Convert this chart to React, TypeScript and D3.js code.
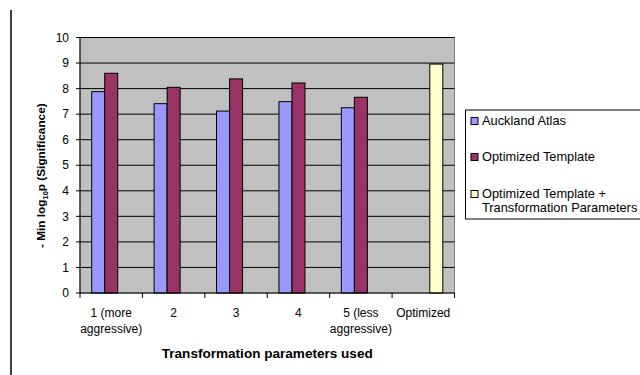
import React from "react";
import * as d3 from "d3";

const categories = ["1 (more|aggressive)", "2", "3", "4", "5 (less|aggressive)", "Optimized"];
const seriesNames = ["Auckland Atlas", "Optimized Template", "Optimized Template +|Transformation Parameters"];
const aucklandAtlas: (number | null)[] = [7.88, 7.41, 7.12, 7.49, 7.25, null];
const optimizedTemplate: (number | null)[] = [8.6, 8.05, 8.38, 8.22, 7.66, null];
const optimizedTransform: (number | null)[] = [null, null, null, null, null, 8.96];
const yTicks = [0, 1, 2, 3, 4, 5, 6, 7, 8, 9, 10];
const colors = ["#9999FF", "#993366", "#FFFFCC"];

export default function App() {
  const W = 640, H = 375;
  const left = 80, right = 454.5, top = 37.5, bottom = 293;
  const x = d3.scaleBand<string>().domain(categories).range([left, right]).paddingInner(0).paddingOuter(0);
  const y = d3.scaleLinear().domain([0, 10]).range([bottom, top]);
  const bw = x.bandwidth();
  const barW = bw * 0.625 / 3;
  const series = [aucklandAtlas, optimizedTemplate, optimizedTransform];
  const font = "Liberation Sans, Arial, sans-serif";

  return (
    <svg width={W} height={H} style={{ position: "absolute", left: 0, top: 0 }} fontFamily={font}>
      <rect x={0} y={0} width={W} height={H} fill="#fff" />
      <line x1={11} x2={11} y1={10} y2={375} stroke="#000" strokeWidth={1.5} />
      <rect x={left} y={top} width={right - left} height={bottom - top} fill="#C0C0C0" stroke="#808080" strokeWidth={1} />
      {yTicks.slice(1).map((t) => (
        <line key={t} x1={left} x2={right} y1={y(t)} y2={y(t)} stroke="#000" strokeWidth={1} />
      ))}
      {series.map((vals, si) =>
        vals.map((v, ci) =>
          v == null ? null : (
            <rect
              key={`${si}-${ci}`}
              x={(x(categories[ci]) as number) + bw / 2 - 1.5 * barW + si * barW}
              y={y(v)}
              width={barW}
              height={y(0) - y(v)}
              fill={colors[si]}
              stroke="#000"
              strokeWidth={1}
            />
          )
        )
      )}
      {/* axes */}
      <line x1={left} x2={left} y1={top} y2={bottom} stroke="#000" strokeWidth={1} />
      <line x1={left} x2={right} y1={bottom} y2={bottom} stroke="#000" strokeWidth={1} />
      {yTicks.map((t) => (
        <g key={t}>
          <line x1={left - 4} x2={left} y1={y(t)} y2={y(t)} stroke="#000" />
          <text x={left - 11} y={y(t)} dy="0.35em" textAnchor="end" fontSize={12}>{t}</text>
        </g>
      ))}
      {categories.map((c, i) => (
        <g key={c}>
          <line x1={(x(c) as number) + bw} x2={(x(c) as number) + bw} y1={bottom} y2={bottom + 5} stroke="#000" />
          {c.split("|").map((ln, li) => (
            <text key={li} x={(x(c) as number) + bw / 2} y={317 + li * 16} textAnchor="middle" fontSize={12}>{ln}</text>
          ))}
        </g>
      ))}
      <line x1={left} x2={left} y1={bottom} y2={bottom + 5} stroke="#000" />
      <text x={(left + right) / 2} y={357.5} textAnchor="middle" fontSize={13.5} fontWeight="bold" textLength={211} lengthAdjust="spacingAndGlyphs">Transformation parameters used</text>
      <text transform={`translate(45, 248) rotate(-90)`} textAnchor="start" fontSize={11.8} fontWeight="bold">
        - Min log<tspan fontSize={7.5} dy={3}>10</tspan><tspan dy={-3}>p (Significance)</tspan>
      </text>
      {/* legend */}
      <rect x={465.5} y={110} width={200} height={109} fill="#fff" stroke="#000" strokeWidth={1} />
      {seriesNames.map((s, i) => {
        const cy = [121, 157, 194][i];
        return (
          <g key={s}>
            <rect x={471} y={cy - 3.5} width={7} height={7} fill={colors[i]} stroke="#000" strokeWidth={1} />
            {s.split("|").map((ln, li) => (
              <text key={li} x={482} y={cy + li * 14} dy="0.35em" fontSize={12.8}>{ln}</text>
            ))}
          </g>
        );
      })}
    </svg>
  );
}
